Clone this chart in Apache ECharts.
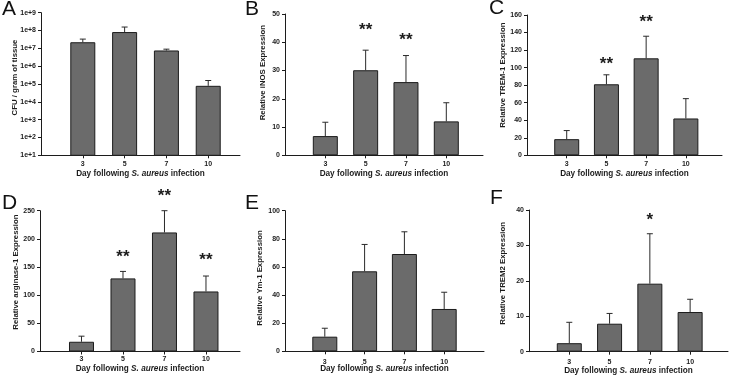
<!DOCTYPE html>
<html>
<head>
<meta charset="utf-8">
<script src="https://cdn.jsdelivr.net/npm/echarts@6/dist/echarts.min.js"></script>
<style>
  html, body { margin: 0; padding: 0; background: #fff; }
  #chart { width: 734px; height: 378px; }
</style>
</head>
<body>
<div id="chart"></div>
<script>
// days after infection (x categories)
var days = ['3', '5', '7', '10'];

// A - CFU / gram of tissue (log axis)
var cfuMean = [2.2e7, 8.2e7, 7.6e6, 7.9e4];
var cfuErr = [1.1e7, 7.5e7, 1.4e6, 7.8e4];

// B - iNOS
var inosMean = [6.8, 30.1, 25.9, 12.0];
var inosErr = [4.9, 7.1, 9.4, 6.6];
var inosStars = ['', '**', '**', ''];
var inosStarY = [0, 45.4, 41.9, 0];

// C - TREM-1
var trem1Mean = [18.4, 81, 110.6, 42];
var trem1Err = [9.8, 10.8, 25.2, 22.6];
var trem1Stars = ['', '**', '**', ''];
var trem1StarY = [0, 107.6, 155.5, 0];

// D - arginase-1
var arg1Mean = [17.3, 129.8, 211.4, 106.6];
var arg1Err = [9.9, 12.4, 38.6, 27.4];
var arg1Stars = ['', '**', '**', '**'];
var arg1StarY = [0, 173, 281, 167.5];

// E - Ym-1
var ym1Mean = [10.4, 56.9, 69.2, 30.1];
var ym1Err = [6.0, 19.1, 15.8, 11.9];

// F - TREM2
var trem2Mean = [2.4, 7.9, 19.2, 11.2];
var trem2Err = [5.9, 2.9, 14.1, 3.6];
var trem2Stars = ['', '', '*', ''];
var trem2StarY = [0, 0, 38.1, 0];

var font = "'Liberation Sans', Arial, sans-serif";
var ink = '#1c1c1c';
var barGray = '#6b6b6b';

var panels = [
  { letter: 'A', lx: 2, ly: 9.5, box: [41, 12.7, 199, 142.6], xMax: 4.76,
    yType: 'log', yMin: 10, yMax: 1e9, yName: 'CFU / gram of tissue',
    mean: cfuMean, err: cfuErr, xLabGap: 5, xNameGap: 14, yNameGap: 22, yShift: 6.5 },
  { letter: 'B', lx: 245, ly: 9.5, box: [285, 14, 198, 141.3], xMax: 4.91,
    yType: 'value', yMin: 0, yMax: 50, yStep: 10, yName: 'Relative iNOS Expression',
    mean: inosMean, err: inosErr, stars: inosStars, starY: inosStarY,
    xLabGap: 5, xNameGap: 14, yNameGap: 18, yShift: 12 },
  { letter: 'C', lx: 489, ly: 8, box: [527, 15, 195, 140.3], xMax: 4.91,
    yType: 'value', yMin: 0, yMax: 160, yStep: 20, yName: 'Relative TREM-1 Expression',
    mean: trem1Mean, err: trem1Err, stars: trem1Stars, starY: trem1StarY,
    xLabGap: 5, xNameGap: 14.5, yNameGap: 20, yShift: 10 },
  { letter: 'D', lx: 2, ly: 203, box: [40, 210.7, 200, 140.8], xMax: 4.82,
    yType: 'value', yMin: 0, yMax: 250, yStep: 50, yName: 'Relative arginase-1 Expression',
    mean: arg1Mean, err: arg1Err, stars: arg1Stars, starY: arg1StarY,
    xLabGap: 4, xNameGap: 13, yNameGap: 20, yShift: 9 },
  { letter: 'E', lx: 245, ly: 203, box: [285, 210.7, 199, 140.6], xMax: 5.0,
    yType: 'value', yMin: 0, yMax: 100, yStep: 20, yName: 'Relative Ym-1 Expression',
    mean: ym1Mean, err: ym1Err, xLabGap: 7, xNameGap: 13, yNameGap: 21, yShift: 3 },
  { letter: 'F', lx: 490, ly: 198, box: [529, 210, 199, 141.7], xMax: 4.94,
    yType: 'value', yMin: 0, yMax: 40, yStep: 10, yName: 'Relative TREM2 Expression',
    mean: trem2Mean, err: trem2Err, stars: trem2Stars, starY: trem2StarY,
    xLabGap: 7, xNameGap: 15.5, yNameGap: 22, yShift: 7.5 }
];

var option = {
  animation: false,
  backgroundColor: '#fff',
  grid: [], xAxis: [], yAxis: [], series: [], graphic: []
};

panels.forEach(function (p, i) {
  option.grid.push({
    left: p.box[0], top: p.box[1], width: p.box[2], height: p.box[3],
    containLabel: false, outerBoundsMode: 'none'
  });

  option.xAxis.push({
    gridIndex: i, type: 'value', min: 0, max: p.xMax,
    axisLine: { show: true, onZero: false, lineStyle: { color: ink, width: 1 } },
    axisTick: { show: true, length: 3, customValues: [1, 2, 3, 4], lineStyle: { color: ink } },
    axisLabel: {
      customValues: [1, 2, 3, 4], margin: p.xLabGap,
      fontSize: 7, fontWeight: 'bold', color: ink, fontFamily: font,
      formatter: function (v) { return days[Math.round(v) - 1]; }
    },
    splitLine: { show: false },
    name: 'Day following {it|S. aureus} infection',
    nameLocation: 'middle', nameGap: p.xNameGap, nameMoveOverlap: false,
    nameTextStyle: {
      fontSize: 8.2, fontWeight: 'bold', color: ink, fontFamily: font,
      rich: { it: { fontSize: 8.2, fontWeight: 'bold', fontStyle: 'italic', color: ink, fontFamily: font } }
    }
  });

  var y = {
    gridIndex: i, type: p.yType, min: p.yMin, max: p.yMax,
    axisLine: { show: true, lineStyle: { color: ink, width: 1 } },
    axisTick: { show: true, length: 3, lineStyle: { color: ink } },
    axisLabel: { margin: 5, fontSize: 7, fontWeight: 'bold', color: ink, fontFamily: font },
    splitLine: { show: false },
    name: p.yName, nameLocation: 'middle', nameGap: p.yNameGap, nameMoveOverlap: false,
    nameTextStyle: {
      fontSize: 7.8, fontWeight: 'bold', color: ink, fontFamily: font,
      padding: [0, 0, 0, 2 * p.yShift]
    }
  };
  if (p.yType === 'log') {
    y.logBase = 10;
    y.splitNumber = 8;
    y.axisLabel.formatter = function (v) { return '1e+' + Math.round(Math.log(v) / Math.LN10); };
  } else {
    y.interval = p.yStep;
  }
  option.yAxis.push(y);

  option.series.push({
    type: 'bar', xAxisIndex: i, yAxisIndex: i, barWidth: 25, z: 3,
    data: p.mean.map(function (m, k) { return [k + 1, m]; }),
    itemStyle: { color: barGray, borderColor: ink, borderWidth: 1 }
  });

  option.series.push({
    type: 'custom', xAxisIndex: i, yAxisIndex: i, z: 2,
    data: p.mean.map(function (m, k) { return [k + 1, m, m + p.err[k]]; }),
    renderItem: function (params, api) {
      var base = api.coord([api.value(0), api.value(1)]);
      var top = api.coord([api.value(0), api.value(2)]);
      var st = { stroke: '#2a2a2a', lineWidth: 1 };
      return {
        type: 'group',
        children: [
          { type: 'line', shape: { x1: base[0], y1: base[1], x2: top[0], y2: top[1] }, style: st },
          { type: 'line', shape: { x1: top[0] - 3, y1: top[1], x2: top[0] + 3, y2: top[1] }, style: st }
        ]
      };
    }
  });

  if (p.stars) {
    var starData = [];
    p.stars.forEach(function (s, k) { if (s) starData.push([k + 1, p.starY[k], s]); });
    option.series.push({
      type: 'custom', xAxisIndex: i, yAxisIndex: i, z: 4, clip: false,
      data: starData,
      renderItem: function (params, api) {
        var pt = api.coord([api.value(0), api.value(1)]);
        return {
          type: 'text', x: pt[0], y: pt[1] + 3.5,
          style: {
            text: starData[params.dataIndex][2], fill: ink,
            font: 'bold 17px ' + font, align: 'center', verticalAlign: 'middle'
          }
        };
      }
    });
  }

  option.graphic.push({
    type: 'text', x: p.lx, y: p.ly,
    style: { text: p.letter, fill: '#111', font: '21px ' + font, verticalAlign: 'middle', align: 'left' }
  });
});

var chart = echarts.init(document.getElementById('chart'), null, { renderer: 'canvas' });
chart.setOption(option);
</script>
</body>
</html>
